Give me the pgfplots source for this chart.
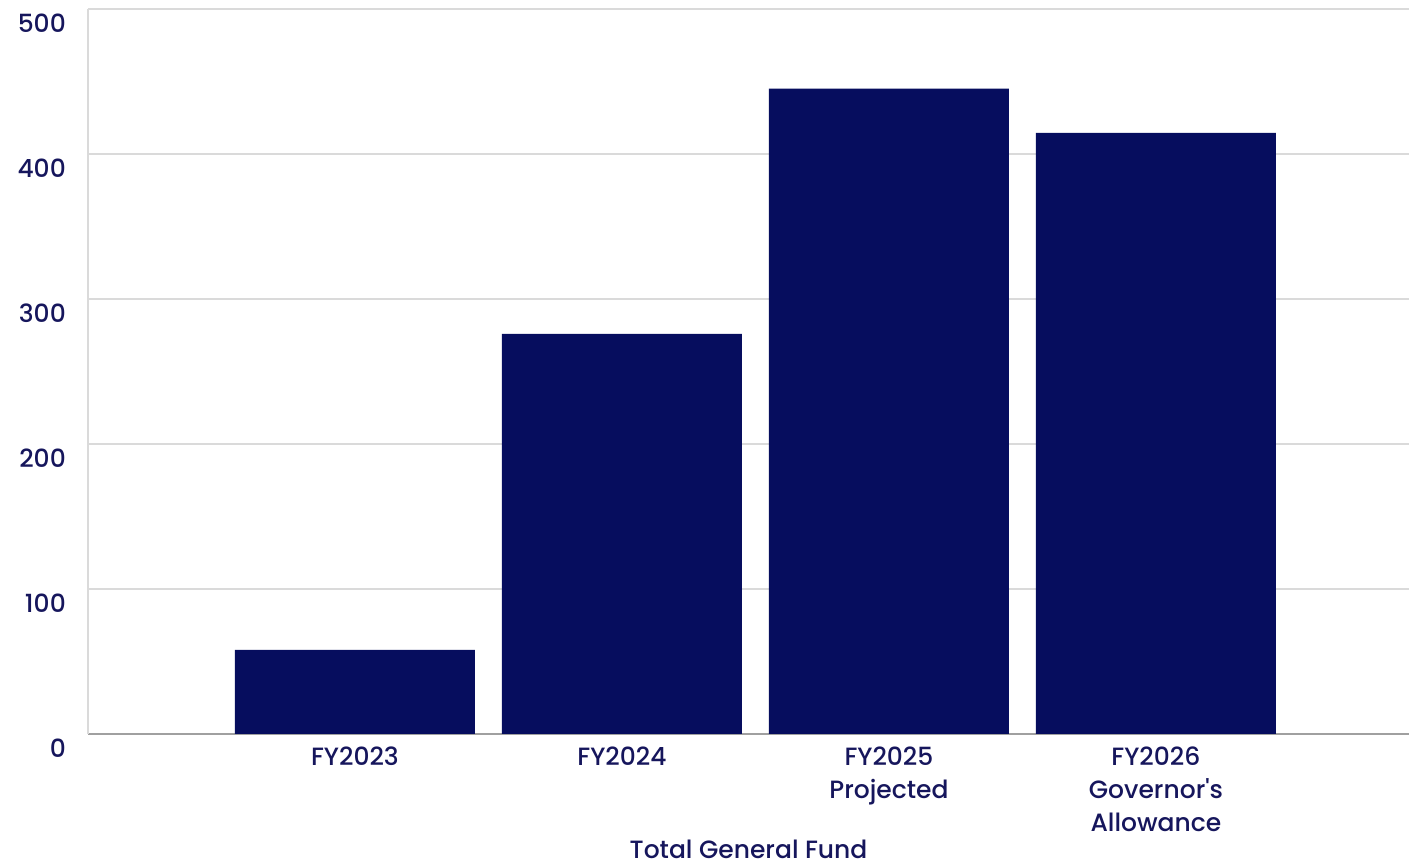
\documentclass[border=0pt]{standalone}
\usepackage{fontspec}
\setmainfont{Poppins}[UprightFont={* Medium}]
\usepackage{pgfplots}
\pgfplotsset{compat=1.18}
\definecolor{barnavy}{RGB}{6,13,94}
\definecolor{txtnavy}{RGB}{22,22,92}
\definecolor{gridgray}{RGB}{218,218,218}
\definecolor{axisgray}{RGB}{160,160,160}
\begin{document}
\begin{tikzpicture}
\path[use as bounding box] (-88pt,-132pt) rectangle (1321pt,734pt);
\begin{axis}[
  scale only axis,
  width=1321pt, height=725pt,
  at={(0pt,0pt)}, anchor=south west,
  xmin=0, xmax=4.948,
  ymin=0, ymax=500,
  ytick={0,100,200,300,400,500},
  xtick={1,2,3,4},
  xticklabels={FY2023,FY2024,{FY2025\\Projected},{FY2026\\Governor\textquotesingle s\\Allowance}},
  axis x line*=bottom,
  axis y line*=left,
  x axis line style={axisgray, line width=1.6pt, -},
  y axis line style={gridgray, line width=1.2pt, -},
  ymajorgrids,
  major grid style={gridgray, line width=1.2pt},
  major tick length=0pt,
  tick style={draw=none},
  /pgf/number format/assume math mode=true,
  yticklabel style={anchor=east, inner sep=0pt, xshift=-22pt, yshift=-14pt,
    font=\fontsize{25}{30}\selectfont, text=txtnavy},
  xticklabel style={anchor=north, align=center, inner sep=0pt, yshift=-13pt,
    font=\fontsize{25}{33}\selectfont, text=txtnavy},
  xlabel={Total General Fund},
  xlabel style={font=\fontsize{25}{30}\selectfont, text=txtnavy, anchor=north, inner sep=0pt, at={(axis description cs:0.5,0)}, yshift=-106pt},
  clip=false,
]
\addplot[ybar, bar width=240pt, fill=barnavy, draw=none] coordinates {(1,58) (2,276) (3,445) (4,414.5)};
\end{axis}
\end{tikzpicture}
\end{document}
